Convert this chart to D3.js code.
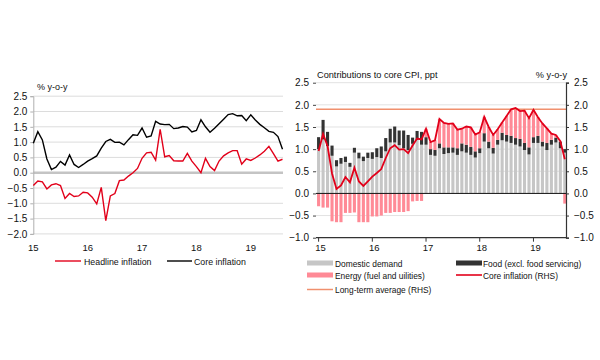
<!DOCTYPE html>
<html><head><meta charset="utf-8">
<script src="https://cdn.jsdelivr.net/npm/d3@7"></script>
<style>
body{margin:0;background:#fff}
svg text{font-family:"Liberation Sans",Arial,sans-serif;fill:#111}
</style>
</head><body>
<svg id="c" width="600" height="360"></svg>
<script>
// ---------------- DATA ----------------
const yearLabels = ["15","16","17","18","19"];
const headline = [
 -0.42,-0.27,-0.30,-0.53,-0.40,-0.36,-0.42,-0.84,-0.68,-0.78,-0.76,-0.64,
 -0.66,-0.80,-1.02,-0.48,-1.57,-0.76,-0.68,-0.26,-0.24,-0.11,0.00,0.14,
 0.47,0.65,0.67,0.41,1.42,0.52,0.56,0.39,0.38,0.38,0.63,0.38,
 0.20,0.00,0.47,0.20,0.07,0.38,0.55,0.65,0.72,0.72,0.28,0.45,
 0.40,0.48,0.58,0.70,0.86,0.62,0.38,0.44];
const core = [
 0.96,1.34,1.07,0.45,0.10,0.18,0.37,0.25,0.58,0.27,0.17,0.27,
 0.38,0.46,0.55,0.80,1.02,1.09,0.99,1.00,0.91,1.08,1.24,1.22,
 1.46,1.16,1.20,1.68,1.59,1.57,1.58,1.44,1.46,1.51,1.49,1.33,
 1.38,1.73,1.50,1.32,1.45,1.60,1.75,1.90,1.93,1.86,1.87,1.70,
 1.89,1.72,1.58,1.47,1.35,1.32,1.18,0.77];
const domestic = [
 1.00,1.22,1.07,0.85,0.61,0.67,0.71,0.60,0.92,0.79,0.73,0.80,
 0.78,0.82,0.80,0.95,1.15,1.15,1.09,1.02,0.98,1.12,1.21,1.10,
 1.10,0.87,0.85,1.02,0.89,0.91,0.92,0.87,0.95,0.92,0.87,0.81,
 0.91,1.17,1.02,0.90,1.10,1.20,1.17,1.14,1.10,1.06,0.98,0.88,
 1.14,1.14,1.06,0.98,1.10,1.15,1.02,0.92];
const food = [
 0.27,0.44,0.32,0.23,0.14,0.13,0.12,0.09,0.11,0.13,0.10,0.12,
 0.15,0.20,0.26,0.30,0.31,0.36,0.33,0.40,0.34,0.14,0.20,0.29,
 0.17,0.13,0.13,0.11,0.15,0.13,0.12,0.15,0.18,0.18,0.18,0.14,
 0.11,0.19,0.15,0.13,0.11,0.17,0.15,0.16,0.15,0.17,0.16,0.16,
 0.13,0.16,0.11,0.16,0.11,0.11,0.15,0.08];
const energy = [
 -0.29,-0.32,-0.32,-0.63,-0.65,-0.65,-0.44,-0.44,-0.43,-0.65,-0.65,-0.65,
 -0.52,-0.52,-0.50,-0.44,-0.44,-0.42,-0.42,-0.42,-0.40,-0.18,-0.17,-0.17,
 0.19,0.16,0.22,0.55,0.55,0.53,0.54,0.42,0.33,0.41,0.44,0.38,
 0.36,0.37,0.33,0.29,0.24,0.23,0.43,0.60,0.68,0.63,0.73,0.66,
 0.62,0.42,0.41,0.33,0.14,0.06,0.01,-0.23];
const longTermAvg = 1.9;
const leftTicks = [2.5,2.0,1.5,1.0,0.5,0.0,-0.5,-1.0,-1.5,-2.0];
const rightTicks = [2.5,2.0,1.5,1.0,0.5,0.0,-0.5,-1.0];

// ---------------- DRAW ----------------
const svg = d3.select("#c");
const fmt = d3.format(".1f");
const idx = d3.range(core.length);
const RED = "#e2001a";

// ===== LEFT CHART =====
const xL = d3.scaleLinear().domain([0, 55]).range([33.3, 282.5]);
const yL = d3.scaleLinear().domain([-2, 2.5]).range([233.9, 96.2]);
const gL = svg.append("g");
gL.selectAll("line.grid").data(leftTicks.filter(d=>d!==0)).join("line")
  .attr("x1",33.3).attr("x2",283).attr("y1",d=>yL(d)).attr("y2",d=>yL(d))
  .attr("stroke","#dcdcdc").attr("stroke-width",1);
gL.append("line").attr("x1",33.3).attr("x2",283).attr("y1",yL(0)).attr("y2",yL(0))
  .attr("stroke","#c4c4c4").attr("stroke-width",2.5);
gL.append("g").attr("transform","translate(33.3,0)")
  .call(d3.axisLeft(yL).tickValues(leftTicks).tickFormat(fmt).tickSize(3).tickPadding(3))
  .call(g=>{g.select(".domain").attr("stroke","#b0b0b0");
            g.selectAll(".tick line").attr("stroke","#b0b0b0");
            g.selectAll("text").attr("font-size",10).attr("fill","#111")
             .attr("font-family","Liberation Sans, Arial, sans-serif");});
gL.selectAll("text.xl").data(yearLabels).join("text")
  .attr("x",(d,i)=>xL(i*12)).attr("y",251).attr("text-anchor","middle")
  .attr("font-size",9.5).text(d=>d);
gL.append("text").attr("x",37).attr("y",90).attr("font-size",9).text("% y-o-y");
const lineL = v => d3.line().x((d,i)=>xL(i)).y(d=>yL(d))(v);
gL.append("path").attr("d",lineL(headline)).attr("fill","none").attr("stroke",RED).attr("stroke-width",1.4);
gL.append("path").attr("d",lineL(core)).attr("fill","none").attr("stroke","#000").attr("stroke-width",1.4);
// legend left
gL.append("line").attr("x1",55).attr("x2",81).attr("y1",261).attr("y2",261).attr("stroke",RED).attr("stroke-width",1.4);
gL.append("text").attr("x",84).attr("y",264.5).attr("font-size",8.8).text("Headline inflation");
gL.append("line").attr("x1",167).attr("x2",192).attr("y1",261).attr("y2",261).attr("stroke","#000").attr("stroke-width",1.4);
gL.append("text").attr("x",194).attr("y",264.5).attr("font-size",8.8).text("Core inflation");

// ===== RIGHT CHART =====
const x0 = 316, x1 = 566;
const xR = d3.scaleLinear().domain([0, 55]).range([318.6, 564.8]);
const yR = d3.scaleLinear().domain([-1, 2.5]).range([237.7, 82.7]);
const gR = svg.append("g");
const bw = 3.1;
gR.selectAll("line.grid").data(rightTicks.filter(d=>d!==0 && d!==-1)).join("line")
  .attr("x1",x0).attr("x2",x1).attr("y1",d=>yR(d)).attr("y2",d=>yR(d))
  .attr("stroke","#e2e2e2").attr("stroke-width",1);
// bars
gR.selectAll("rect.dom").data(idx).join("rect")
  .attr("x",i=>xR(i)-bw/2).attr("width",bw)
  .attr("y",i=>yR(domestic[i])).attr("height",i=>yR(0)-yR(domestic[i]))
  .attr("fill","#c6c6c6");
gR.selectAll("rect.food").data(idx).join("rect")
  .attr("x",i=>xR(i)-bw/2).attr("width",bw)
  .attr("y",i=>yR(domestic[i]+food[i])).attr("height",i=>yR(domestic[i])-yR(domestic[i]+food[i]))
  .attr("fill","#333333");
gR.selectAll("rect.en").data(idx).join("rect")
  .attr("x",i=>xR(i)-bw/2).attr("width",bw)
  .attr("y",i=> energy[i]>=0 ? yR(domestic[i]+food[i]+energy[i]) : yR(0))
  .attr("height",i=> energy[i]>=0 ? yR(domestic[i]+food[i])-yR(domestic[i]+food[i]+energy[i]) : yR(energy[i])-yR(0))
  .attr("fill","#ff8a96");
// zero line
gR.append("line").attr("x1",x0).attr("x2",x1).attr("y1",yR(0)).attr("y2",yR(0)).attr("stroke","#111").attr("stroke-width",1);
// long-term avg
gR.append("line").attr("x1",x0).attr("x2",x1).attr("y1",yR(longTermAvg)).attr("y2",yR(longTermAvg))
  .attr("stroke","#f0906e").attr("stroke-width",1.5);
// core line
gR.append("path").attr("d",d3.line().x((d,i)=>xR(i)).y(d=>yR(d))(core))
  .attr("fill","none").attr("stroke",RED).attr("stroke-width",1.8);
// axes
gR.append("g").attr("transform",`translate(${x0},0)`)
  .call(d3.axisLeft(yR).tickValues(rightTicks).tickFormat(fmt).tickSize(3).tickPadding(4))
  .call(g=>{g.select(".domain").remove();
            g.selectAll(".tick line").attr("stroke","#444");
            g.selectAll("text").attr("font-size",10).attr("fill","#111")
             .attr("font-family","Liberation Sans, Arial, sans-serif");});
gR.append("g").attr("transform",`translate(${x1},0)`)
  .call(d3.axisRight(yR).tickValues(rightTicks).tickFormat(fmt).tickSize(3).tickPadding(5))
  .call(g=>{g.select(".domain").attr("stroke","#333").attr("stroke-width",1.2);
            g.selectAll(".tick line").attr("stroke","#333");
            g.selectAll("text").attr("font-size",10).attr("fill","#111")
             .attr("font-family","Liberation Sans, Arial, sans-serif");});
gR.append("line").attr("x1",x0).attr("x2",x1).attr("y1",yR(-1)).attr("y2",yR(-1)).attr("stroke","#333").attr("stroke-width",1.2);
gR.selectAll("line.xt").data(yearLabels).join("line")
  .attr("x1",(d,i)=>xR(i*12)).attr("x2",(d,i)=>xR(i*12))
  .attr("y1",yR(-1)).attr("y2",yR(-1)+4).attr("stroke","#333");
gR.selectAll("text.xr").data(yearLabels).join("text")
  .attr("x",(d,i)=>xR(i*12)+2).attr("y",251).attr("text-anchor","middle")
  .attr("font-size",9.5).text(d=>d);
gR.append("text").attr("x",317).attr("y",78).attr("font-size",9.2).text("Contributions to core CPI, ppt");
gR.append("text").attr("x",567).attr("y",78).attr("text-anchor","end").attr("font-size",9.2).text("% y-o-y");
// legend right
const lg = gR.append("g");
lg.append("rect").attr("x",307).attr("y",260.5).attr("width",26).attr("height",5).attr("fill","#c6c6c6");
lg.append("text").attr("x",335).attr("y",266.5).attr("font-size",8.4).text("Domestic demand");
lg.append("rect").attr("x",456).attr("y",260.5).attr("width",26).attr("height",5).attr("fill","#333333");
lg.append("text").attr("x",483).attr("y",266.5).attr("font-size",8.4).text("Food (excl. food servicing)");
lg.append("rect").attr("x",307).attr("y",272.5).attr("width",26).attr("height",5).attr("fill","#ff8a96");
lg.append("text").attr("x",335).attr("y",278.5).attr("font-size",8.4).text("Energy (fuel and uilities)");
lg.append("line").attr("x1",456).attr("x2",482).attr("y1",275).attr("y2",275).attr("stroke",RED).attr("stroke-width",1.6);
lg.append("text").attr("x",483).attr("y",278.5).attr("font-size",8.4).text("Core inflation (RHS)");
lg.append("line").attr("x1",307).attr("x2",333).attr("y1",289.5).attr("y2",289.5).attr("stroke","#f0906e").attr("stroke-width",1.5);
lg.append("text").attr("x",335).attr("y",292.5).attr("font-size",8.4).text("Long-term average (RHS)");
</script>
</body></html>
